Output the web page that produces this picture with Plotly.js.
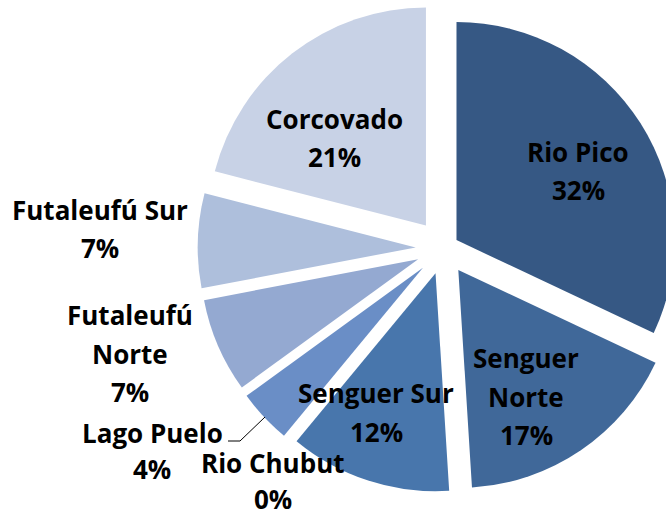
<!DOCTYPE html>
<html>
<head>
<meta charset="utf-8">
<script src="https://cdn.plot.ly/plotly-3.0.1.min.js"></script>
<style>
  html, body { margin: 0; padding: 0; overflow: hidden; background: #fff; }
  #wrap { width: 666px; height: 517px; overflow: hidden; }
  #chart { width: 700px; height: 517px; }
</style>
</head>
<body>
<div id="wrap"><div id="chart"></div></div>
<script>
// Share of each basin (percent), clockwise from 12 o'clock
const regions = ['Rio Pico', 'Senguer Norte', 'Senguer Sur', 'Rio Chubut',
                 'Lago Puelo', 'Futaleufú Norte', 'Futaleufú Sur', 'Corcovado'];
const shares = [32, 17, 12, 0, 4, 7, 7, 21];

// Styling
const colors = ['#365884', '#406899', '#4876ac', '#4f7fb8',
                '#6a8ec6', '#94a9d1', '#aebfdc', '#c8d2e6'];
const pulls = [0.07, 0.12, 0.12, 0.12, 0.13, 0.127, 0.128, 0.132];

// Canvas and pie geometry (pixels)
const W = 700, H = 517;
const cx = 443.6, cy = 248.3, radius = 218;
const half = radius * (1 + Math.max(...pulls));

const px = x => x / W;
const py = y => 1 - y / H;

// Label placement: line centres for each slice's name and percentage
const labelSpots = [
  {x: 578, y: 152, lines: 1, gap: 38.5},
  {x: 526, y: 358, lines: 2, gap: 38.5},
  {x: 376, y: 393, lines: 1, gap: 38.5},
  {x: 273, y: 463, lines: 1, gap: 35.5},
  {x: 152, y: 433, lines: 1, gap: 35.5},
  {x: 130, y: 315, lines: 2, gap: 38.5},
  {x: 100, y: 210.5, lines: 1, gap: 37.5},
  {x: 334, y: 119, lines: 1, gap: 38.5}
];

const annotations = [];
regions.forEach((name, i) => {
  const spot = labelSpots[i];
  const words = name.split(' ');
  const nameLines = spot.lines === 2 ? [words[0], words.slice(1).join(' ')] : [name];
  const allLines = nameLines.concat([shares[i] + '%']);
  allLines.forEach((t, k) => {
    annotations.push({
      x: px(spot.x), y: py(spot.y + k * spot.gap),
      xref: 'paper', yref: 'paper',
      text: '<b>' + t + '</b>',
      showarrow: false,
      xanchor: 'center', yanchor: 'middle',
      font: {family: '"Open Sans", sans-serif', size: 26, color: '#000'}
    });
  });
});

const trace = {
  type: 'pie',
  labels: regions,
  values: shares,
  sort: false,
  direction: 'clockwise',
  rotation: 0,
  pull: pulls,
  textinfo: 'none',
  hoverinfo: 'skip',
  marker: {colors: colors, line: {width: 0}},
  domain: {
    x: [px(cx - half), px(cx + half)],
    y: [py(cy + half), py(cy - half)]
  },
  showlegend: false
};

const layout = {
  width: W, height: H,
  margin: {l: 0, r: 0, t: 0, b: 0},
  paper_bgcolor: '#fff',
  showlegend: false,
  annotations: annotations,
  shapes: [{
    type: 'path', xref: 'paper', yref: 'paper',
    path: 'M ' + px(228) + ' ' + py(441) + ' L ' + px(240) + ' ' + py(441) +
          ' L ' + px(265) + ' ' + py(417),
    line: {color: '#000', width: 1}
  }]
};

Plotly.newPlot('chart', [trace], layout, {staticPlot: true, displayModeBar: false});
</script>
</body>
</html>
